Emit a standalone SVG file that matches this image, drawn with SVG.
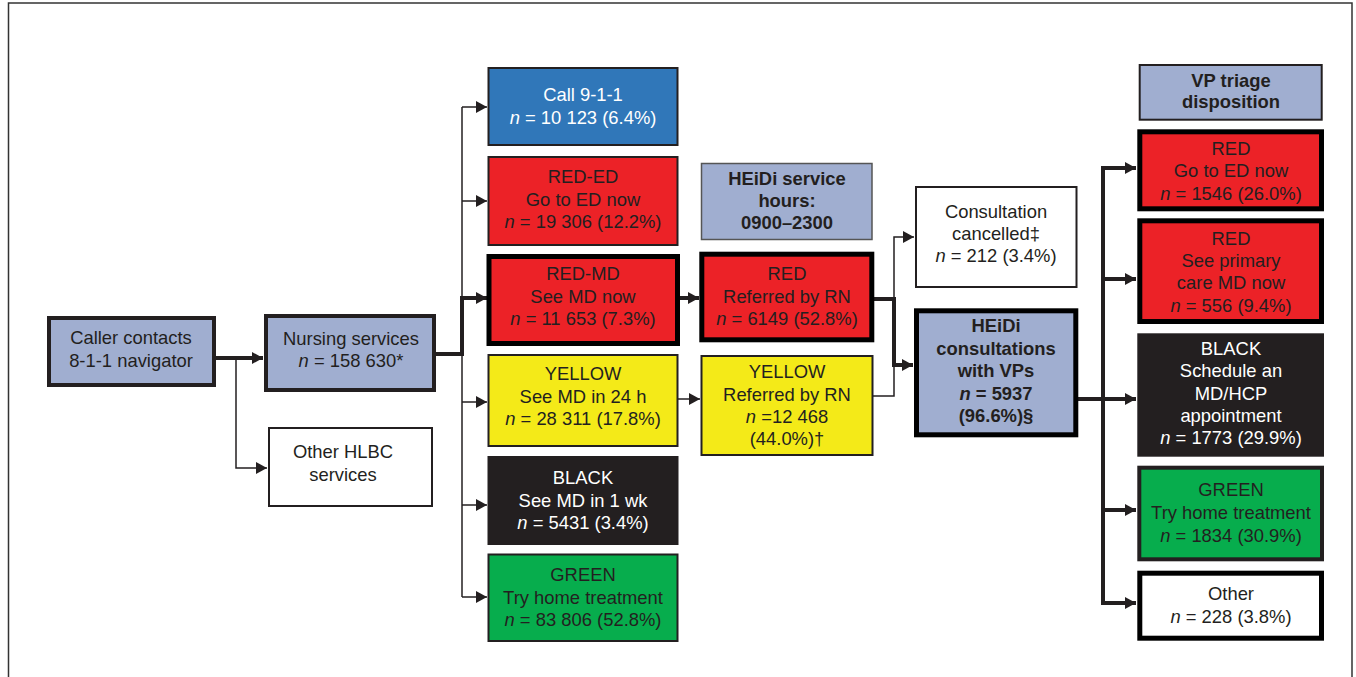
<svg xmlns="http://www.w3.org/2000/svg" width="1356" height="677" viewBox="0 0 1356 677">
<style>
text{font-family:"Liberation Sans",Arial,Helvetica,sans-serif;font-size:18.4px;fill:#231f20;text-anchor:middle}
.b{font-weight:bold}
.w{fill:#ffffff}
.i{font-style:italic}
.lav{fill:#a0aed0}
.blue{fill:#3077b9}
.red{fill:#ec2227}
.yel{fill:#f4ea18}
.blk{fill:#231f20}
.grn{fill:#07ad4d}
.wht{fill:#ffffff}
.s2{stroke:#231f20;stroke-width:2}
.s4{stroke:#231f20;stroke-width:4}
.s5{stroke:#000000;stroke-width:5}
.sg{stroke:#555555;stroke-width:1.5}
.thin{fill:none;stroke:#231f20;stroke-width:1.5}
.thick{fill:none;stroke:#231f20;stroke-width:4}
</style>
<defs>
<marker id="ah" markerUnits="userSpaceOnUse" markerWidth="12" markerHeight="14" refX="11" refY="6" orient="auto">
<path d="M0,0 L11,6 L0,12 z" fill="#231f20"/>
</marker>
</defs>
<rect width="1356" height="677" fill="#ffffff"/>
<path d="M8.5,680 V3 H1352 V680" fill="none" stroke="#333333" stroke-width="1.5"/>

<g id="connectors">
<path class="thick" d="M216,358 H263" marker-end="url(#ah)"/>
<path class="thin" d="M236,358 V468 H267" marker-end="url(#ah)"/>
<path class="thick" d="M436,354 H462 V298 H487" marker-end="url(#ah)"/>
<path class="thin" d="M462,107 V597"/>
<path class="thin" d="M462,107 H487" marker-end="url(#ah)"/>
<path class="thin" d="M462,201 H487" marker-end="url(#ah)"/>
<path class="thin" d="M462,402 H487" marker-end="url(#ah)"/>
<path class="thin" d="M462,505 H487" marker-end="url(#ah)"/>
<path class="thin" d="M462,597 H487" marker-end="url(#ah)"/>
<path class="thick" d="M680,298 H699" marker-end="url(#ah)"/>
<path class="thin" d="M678,399 H700" marker-end="url(#ah)"/>
<path class="thick" d="M874,299 H894 V365 H913" marker-end="url(#ah)"/>
<path class="thin" d="M873,396 H894 V365"/>
<path class="thin" d="M894,299 V237 H914" marker-end="url(#ah)"/>
<path class="thick" d="M1078,399 H1136" marker-end="url(#ah)"/>
<path class="thick" d="M1103,604 V168"/>
<path class="thick" d="M1101,168 H1136" marker-end="url(#ah)"/>
<path class="thick" d="M1103,279 H1136" marker-end="url(#ah)"/>
<path class="thick" d="M1103,510 H1136" marker-end="url(#ah)"/>
<path class="thick" d="M1101,603 H1136" marker-end="url(#ah)"/>
</g>

<g id="caller">
<rect class="lav s4" x="49" y="318" width="165" height="67"/>
<text x="131" y="344">Caller contacts</text>
<text x="131" y="367">8-1-1 navigator</text>
</g>
<g id="nursing">
<rect class="lav s4" x="266" y="316" width="168" height="74"/>
<text x="351" y="345">Nursing services</text>
<text x="351" y="367"><tspan class="i">n</tspan> = 158 630*</text>
</g>
<g id="other-hlbc">
<rect class="wht s2" x="269" y="428" width="163" height="78"/>
<text x="343" y="458">Other HLBC</text>
<text x="343" y="481">services</text>
</g>

<g id="call911">
<rect class="blue s2" x="488.5" y="68" width="189" height="77"/>
<text class="w" x="583" y="101">Call 9-1-1</text>
<text class="w" x="583" y="124"><tspan class="i w">n</tspan> = 10 123 (6.4%)</text>
</g>
<g id="red-ed">
<rect class="red s2" x="488.5" y="157" width="189" height="88"/>
<text x="583" y="183">RED-ED</text>
<text x="583" y="206">Go to ED now</text>
<text x="583" y="228"><tspan class="i">n</tspan> = 19 306 (12.2%)</text>
</g>
<g id="red-md">
<rect class="red s5" x="489" y="256.5" width="188.5" height="87"/>
<text x="583" y="280">RED-MD</text>
<text x="583" y="303">See MD now</text>
<text x="583" y="325"><tspan class="i">n</tspan> = 11 653 (7.3%)</text>
</g>
<g id="yellow">
<rect class="yel s2" x="488.5" y="355" width="189" height="91"/>
<text x="583" y="380">YELLOW</text>
<text x="583" y="403">See MD in 24 h</text>
<text x="583" y="425"><tspan class="i">n</tspan> = 28 311 (17.8%)</text>
</g>
<g id="black">
<rect class="blk s2" x="488.5" y="457" width="189" height="87"/>
<text class="w" x="583" y="484">BLACK</text>
<text class="w" x="583" y="507">See MD in 1 wk</text>
<text class="w" x="583" y="529"><tspan class="i w">n</tspan> = 5431 (3.4%)</text>
</g>
<g id="green">
<rect class="grn s2" x="488.5" y="554.5" width="189" height="86.5"/>
<text x="583" y="581">GREEN</text>
<text x="583" y="604">Try home treatment</text>
<text x="583" y="626"><tspan class="i">n</tspan> = 83 806 (52.8%)</text>
</g>

<g id="heidi-hours">
<rect class="lav sg" x="701.5" y="163.5" width="170.5" height="76"/>
<text class="b" x="787" y="185">HEiDi service</text>
<text class="b" x="787" y="207">hours:</text>
<text class="b" x="787" y="229">0900–2300</text>
</g>
<g id="red-referred">
<rect class="red s5" x="701.8" y="254.2" width="170" height="85.6"/>
<text x="787" y="280">RED</text>
<text x="787" y="303">Referred by RN</text>
<text x="787" y="325"><tspan class="i">n</tspan> = 6149 (52.8%)</text>
</g>
<g id="yellow-referred">
<rect class="yel s2" x="701.5" y="356" width="171" height="99"/>
<text x="787" y="378">YELLOW</text>
<text x="787" y="401">Referred by RN</text>
<text x="787" y="423"><tspan class="i">n</tspan> =12 468</text>
<text x="787" y="445">(44.0%)†</text>
</g>

<g id="cancelled">
<rect class="wht s2" x="916" y="187" width="160.5" height="100"/>
<text x="996" y="218">Consultation</text>
<text x="996" y="240">cancelled‡</text>
<text x="996" y="262"><tspan class="i">n</tspan> = 212 (3.4%)</text>
</g>
<g id="heidi-consult">
<rect class="lav s5" x="916.5" y="310.8" width="159.3" height="124"/>
<text class="b" x="996" y="332">HEiDi</text>
<text class="b" x="996" y="355">consultations</text>
<text class="b" x="996" y="377">with VPs</text>
<text class="b" x="996" y="400"><tspan class="i">n</tspan> = 5937</text>
<text class="b" x="996" y="422">(96.6%)§</text>
</g>

<g id="vp-triage">
<rect class="lav s2" x="1139.7" y="65" width="182" height="54.7"/>
<text class="b" x="1231" y="87">VP triage</text>
<text class="b" x="1231" y="108">disposition</text>
</g>
<g id="vp-red-ed">
<rect class="red s5" x="1139.8" y="131.8" width="181.7" height="77"/>
<text x="1231" y="155">RED</text>
<text x="1231" y="177">Go to ED now</text>
<text x="1231" y="200"><tspan class="i">n</tspan> = 1546 (26.0%)</text>
</g>
<g id="vp-red-md">
<rect class="red s5" x="1139.8" y="220.8" width="181.7" height="100.7"/>
<text x="1231" y="245">RED</text>
<text x="1231" y="267">See primary</text>
<text x="1231" y="289">care MD now</text>
<text x="1231" y="312"><tspan class="i">n</tspan> = 556 (9.4%)</text>
</g>
<g id="vp-black">
<rect class="blk s2" x="1138.3" y="334.3" width="184.7" height="121.4"/>
<text class="w" x="1231" y="355">BLACK</text>
<text class="w" x="1231" y="377">Schedule an</text>
<text class="w" x="1231" y="400">MD/HCP</text>
<text class="w" x="1231" y="422">appointment</text>
<text class="w" x="1231" y="444"><tspan class="i w">n</tspan> = 1773 (29.9%)</text>
</g>
<g id="vp-green">
<rect class="grn s4" x="1139.3" y="467.7" width="182.7" height="91.6"/>
<text x="1231" y="496">GREEN</text>
<text x="1231" y="519">Try home treatment</text>
<text x="1231" y="542"><tspan class="i">n</tspan> = 1834 (30.9%)</text>
</g>
<g id="vp-other">
<rect class="wht s5" x="1139.8" y="573.2" width="181.7" height="65"/>
<text x="1231" y="600">Other</text>
<text x="1231" y="623"><tspan class="i">n</tspan> = 228 (3.8%)</text>
</g>
</svg>
